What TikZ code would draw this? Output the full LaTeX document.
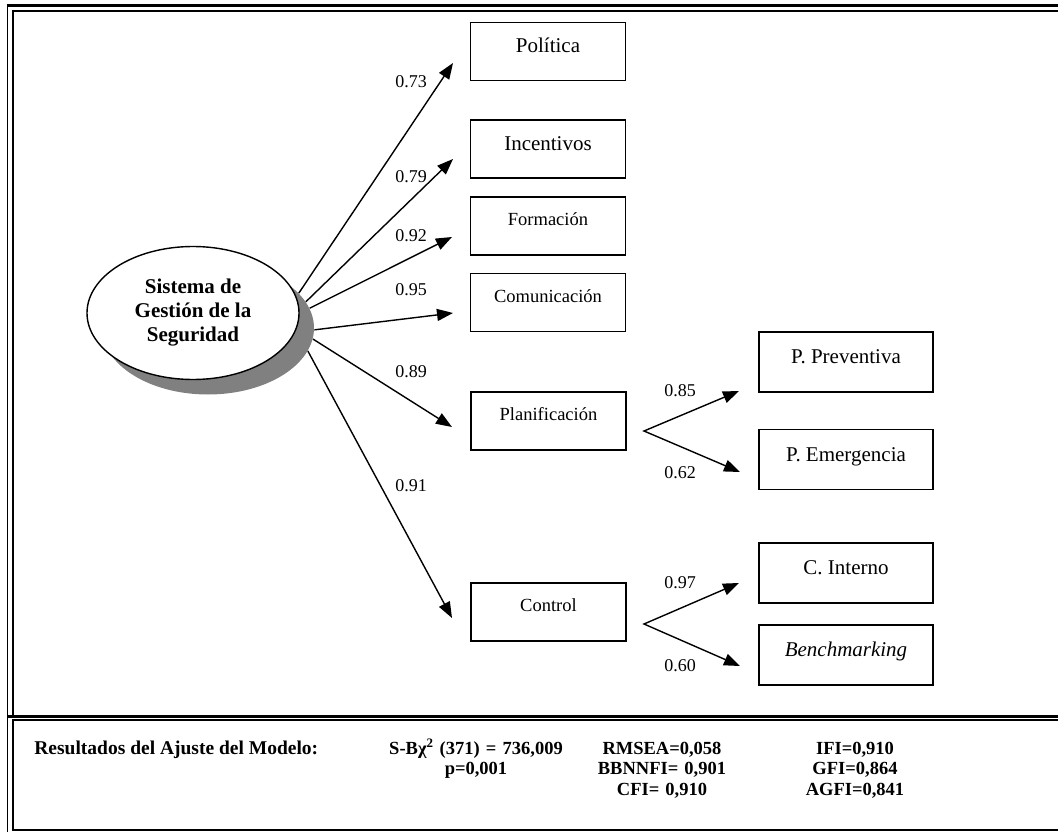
\documentclass[tikz,border=0pt]{standalone}
\usepackage{fontspec}
\setmainfont{Liberation Serif}
\usetikzlibrary{
		arrows.meta,
		shapes.geometric,
		positioning
	}
\definecolor{sombra}{RGB}{128,128,128}
\tikzset{
		>={Triangle[length=16pt,width=12pt]}
	}
\tikzset{
		caja/.style={draw,line width=1.4pt,minimum width=155pt,minimum height=58pt,inner sep=0pt,text height=14pt,text depth=11pt,font=\fontsize{21}{24}\selectfont},
		cajita/.style={caja,font=\fontsize{18.5}{22}\selectfont,text height=12pt,text depth=12.5pt},
		cajader/.style={caja,minimum width=174pt,minimum height=60pt},
		peso/.style={font=\fontsize{18}{20}\selectfont,inner sep=0pt},
		flecha/.style={->,line width=1.4pt},
		ajuste/.style={font=\fontsize{18.5}{20.5}\selectfont\bfseries,inner sep=0pt,align=center}
	}
\begin{document}
\begin{tikzpicture}[x=1pt,y=-1pt,thick]
          \useasboundingbox (0,0) rectangle (1058,832);

          % marco doble
          \draw[line width=1.7pt] (7.5,4) -- (7.5,832);
          \draw[line width=2.7pt] (6.6,5.3) -- (1058,5.3);
          \draw[line width=2.3pt] (11.7,10.8) -- (1058,10.8);
          \draw[line width=2pt] (12.7,9.7) -- (12.7,716);
          \draw[line width=3pt] (6.6,716.2) -- (1058,716.2);
          \draw[line width=1.3pt] (12.7,720) -- (1058,720);
          \draw[line width=2pt] (12.7,719.4) -- (12.7,830.6);
          \draw[line width=1.3pt] (11.7,830) -- (1058,830);

          \coordinate (tPol) at (453,63);
          \coordinate (tInc) at (453,159);
          \coordinate (tFrm) at (452,237);
          \coordinate (tCom) at (453,313);
          \coordinate (tPla) at (452,427);
          \coordinate (tCon) at (452,618);
          \coordinate (vPla) at (644,431);
          \coordinate (tPre) at (739,391);
          \coordinate (tEme) at (740,472);
          \coordinate (vCon) at (644,624);
          \coordinate (tCin) at (739,583);
          \coordinate (tBen) at (740,666);

          \node[ellipse,fill=sombra,minimum width=212pt,minimum height=133pt] (shd) at (208,328) {};
          \node[ellipse,draw,fill=white,line width=1.4pt,minimum width=212pt,minimum height=133pt,inner sep=0pt,align=center,font=\fontsize{21}{24}\selectfont\bfseries] (sgs) at (193,313) {Sistema de\\Gestión de la\\Seguridad};

          \node[caja] (pol) at (548,51.5) {Política};
          \node[caja] (inc) at (548,149) {Incentivos};
          \node[cajita] (frm) at (548,226) {Formación};
          \node[cajita] (com) at (548,302.5) {Comunicación};
          \node[cajita] (pla) at (548.5,421) {Planificación};
          \node[cajita] (con) at (548.5,612) {Control};
          \node[cajader] (pre) at (846,362) {P. Preventiva};
          \node[cajader] (eme) at (846,459.5) {P. Emergencia};
          \node[cajader] (cin) at (846,573) {C. Interno};
          \node[cajader] (ben) at (846,655) {\textit{Benchmarking}};

          \draw[flecha] (shd.21.8) -- (tPol);
          \draw[flecha] (shd.15.6) -- (tInc);
          \draw[flecha] (shd.11.7) -- (tFrm);
          \draw[flecha] (shd.-1.1) -- (tCom);
          \draw[flecha] (shd.-6.5) -- (tPla);
          \draw[flecha] (shd.-13.4) -- (tCon);
          \draw[<->,line width=1.4pt] (tPre) -- (vPla) -- (tEme);
          \draw[<->,line width=1.4pt] (tCin) -- (vCon) -- (tBen);

          \node[peso] (w73) at (411,82) {0.73};
          \node[peso] (w79) at (411,177) {0.79};
          \node[peso] (w92) at (411,236) {0.92};
          \node[peso] (w95) at (411,290) {0.95};
          \node[peso] (w89) at (411,372) {0.89};
          \node[peso] (w91) at (411,486) {0.91};
          \node[peso] (w85) at (680,391) {0.85};
          \node[peso] (w62) at (680,473) {0.62};
          \node[peso] (w97) at (680,583) {0.97};
          \node[peso] (w60) at (680,666) {0.60};

          \node[ajuste,font=\fontsize{19.5}{20.5}\selectfont\bfseries,anchor=base west] (res) at (34,754) {Resultados del Ajuste del Modelo:};
          \node[ajuste,anchor=base,text width=220pt] (chi) at (476,754) {S-Bχ\textsuperscript{2} (371) = 736,009\\p=0,001};
          \node[ajuste,anchor=base,text width=180pt] (rms) at (662,754) {RMSEA=0,058\\BBNNFI= 0,901\\CFI= 0,910};
          \node[ajuste,anchor=base,text width=150pt] (ifi) at (855,754) {IFI=0,910\\GFI=0,864\\AGFI=0,841};

          \end{tikzpicture}
\end{document}
